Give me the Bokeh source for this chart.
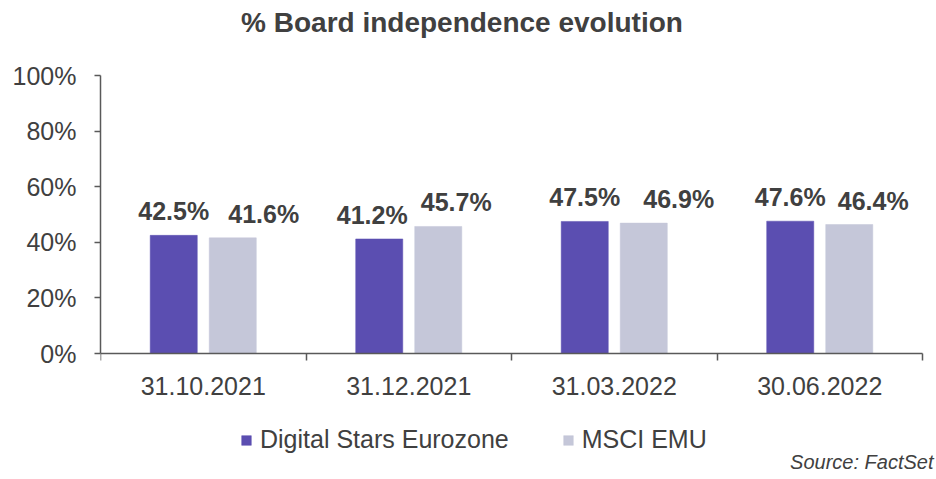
from bokeh.plotting import figure
from bokeh.models import (ColumnDataSource, Range1d, LinearAxis, FixedTicker,
                          PrintfTickFormatter, Legend, LegendItem, Label)
from bokeh.transform import dodge
from bokeh.core.properties import value
from bokeh.embed import file_html
from bokeh.resources import INLINE

# ---- data ----
categories = ["31.10.2021", "31.12.2021", "31.03.2022", "30.06.2022"]
digital_stars = [42.5, 41.2, 47.5, 47.6]
msci_emu = [41.6, 45.7, 46.9, 46.4]
series_names = ["Digital Stars Eurozone", "MSCI EMU"]
y_ticks = [0, 20, 40, 60, 80, 100]
title_text = "% Board independence evolution"
source_text = "Source: FactSet"

# ---- style ----
PURPLE = "#5B4EB1"
GREY = "#C5C7D9"
TEXT = "#404040"
AXIS = "#595959"
FONT = "Liberation Sans"
ds_label_nudge = [0, -7, 0, 0]      # px nudges of value labels
msci_label_nudge = [31, 18, 35, 24]

W, H = 936, 479
PLOT_LEFT_PX, PLOT_RIGHT_PX = 100, 922         # pixel columns of the axis extent
PLOT_TOP_PX, PLOT_BOTTOM_PX = 75, 353          # pixel rows of 100% and 0%
PX_PER_UNIT = (PLOT_BOTTOM_PX - PLOT_TOP_PX) / 100.0
y_lo = -(H - PLOT_BOTTOM_PX) / PX_PER_UNIT
y_hi = 100 + PLOT_TOP_PX / PX_PER_UNIT

n = len(categories)
centers = [i + 0.5 for i in range(n)]
bounds = list(range(n + 1))
x_hi = n + (W - PLOT_RIGHT_PX) * n / (PLOT_RIGHT_PX - PLOT_LEFT_PX)

src = ColumnDataSource(dict(
    xc=centers,
    ds=digital_stars,
    msci=msci_emu,
    ds_lbl=[f"{v:.1f}%" for v in digital_stars],
    msci_lbl=[f"{v:.1f}%" for v in msci_emu],
    ds_dx=ds_label_nudge,
    msci_dx=msci_label_nudge,
))

p = figure(x_range=Range1d(0, x_hi), y_range=Range1d(y_lo, y_hi), width=W, height=H,
           output_backend="svg", toolbar_location=None, x_axis_location=None,
           min_border_left=PLOT_LEFT_PX, min_border_right=0, min_border_top=0, min_border_bottom=0)
p.outline_line_color = None
p.grid.visible = False
p.background_fill_color = "white"
p.border_fill_color = "white"

# y axis (limited to 0..100)
ya = p.yaxis[0]
ya.bounds = (0, 100)
ya.ticker = FixedTicker(ticks=y_ticks)
ya.formatter = PrintfTickFormatter(format="%d%%")
ya.major_label_text_font = FONT
ya.major_label_text_font_size = "25px"
ya.major_label_text_color = TEXT
ya.major_label_standoff = 18
ya.major_tick_out = 6
ya.major_tick_in = 0
ya.minor_tick_line_color = None
ya.axis_line_color = AXIS
ya.major_tick_line_color = AXIS
ya.axis_line_width = 1.5
ya.major_tick_line_width = 1.5

# x axis at y = 0: labels at category centres, ticks at category boundaries
xa = LinearAxis(ticker=FixedTicker(ticks=centers, minor_ticks=bounds), fixed_location=0,
                bounds=(0, n))
xa.major_label_overrides = {c: lab for c, lab in zip(centers, categories)}
xa.major_tick_line_color = None
xa.major_tick_out = 7
xa.major_tick_in = 0
xa.minor_tick_out = 7
xa.minor_tick_in = 0
xa.minor_tick_line_color = AXIS
xa.minor_tick_line_width = 1.5
xa.axis_line_color = AXIS
xa.axis_line_width = 1.5
xa.major_label_text_font = FONT
xa.major_label_text_font_size = "25px"
xa.major_label_text_color = TEXT
xa.major_label_standoff = 16
p.add_layout(xa, "below")

# bars
r1 = p.vbar(x=dodge("xc", -0.1436), top="ds", width=0.229, source=src,
            fill_color=PURPLE, line_color=PURPLE, line_width=0.5)
r2 = p.vbar(x=dodge("xc", 0.1436), top="msci", width=0.229, source=src,
            fill_color=GREY, line_color=GREY, line_width=0.5)

# value labels
p.text(x=dodge("xc", -0.1436), y="ds", text="ds_lbl", source=src,
       x_offset="ds_dx", y_offset=-24, text_align="center", text_baseline="middle",
       text_font=value(FONT), text_font_size="25px", text_font_style="bold", text_color=TEXT)
p.text(x=dodge("xc", 0.1436), y="msci", text="msci_lbl", source=src,
       x_offset="msci_dx", y_offset=-24, text_align="center", text_baseline="middle",
       text_font=value(FONT), text_font_size="25px", text_font_style="bold", text_color=TEXT)

# title
p.add_layout(Label(x=1.759, y=119.1, text=title_text, text_align="center", text_baseline="middle",
                   text_font=FONT, text_font_size="28px", text_font_style="bold", text_color=TEXT))
# source
p.add_layout(Label(x=4.0535, y=-38.85, text=source_text, text_align="right", text_baseline="middle",
                   text_font=FONT, text_font_size="20px", text_font_style="italic", text_color=TEXT))

# legend
legend = Legend(items=[LegendItem(label=series_names[0], renderers=[r1]),
                       LegendItem(label=series_names[1], renderers=[r2])],
                orientation="horizontal", location=(140, 25),
                glyph_width=12, glyph_height=12, label_standoff=8, spacing=53,
                padding=0, margin=0, border_line_color=None, background_fill_alpha=0,
                label_text_font=FONT, label_text_font_size="25px", label_text_color=TEXT)
p.add_layout(legend, "center")

open("out.html", "w").write(file_html(p, INLINE))
